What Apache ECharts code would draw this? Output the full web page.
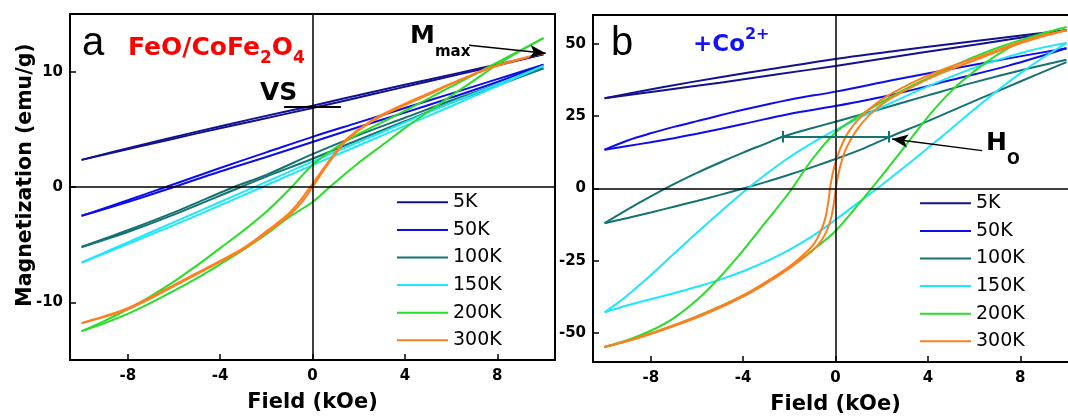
<!DOCTYPE html>
<html lang="en">
<head>
<meta charset="UTF-8">
<title>M-H loops</title>
<style>
  html, body { margin: 0; padding: 0; background: #fff; }
  #chart { width: 1068px; height: 416px; }
</style>
</head>
<body>
<div id="chart"></div>
<script src="https://cdn.jsdelivr.net/npm/echarts@6/dist/echarts.min.js"></script>
<script>
// temperatures and their colours
const temps = ['5K', '50K', '100K', '150K', '200K', '300K'];
const colors = ['#12128f', '#0d0dea', '#157272', '#1fe6fb', '#28de28', '#ff7e1e'];

const xTicks = [-8, -4, 0, 4, 8];
const yTicksA = [-10, 0, 10];
const yTicksB = [-50, -25, 0, 25, 50];

// panel a (FeO/CoFe2O4): [field kOe, M emu/g], dn = field going down, up = field going up
const a5K_dn = [[-10, 2.35], [-7.5, 3.6], [-5, 4.8], [-2.5, 5.95], [0, 7.05], [2.5, 8.2], [5, 9.3], [7.5, 10.4], [10, 11.5]];
const a5K_up = [[-10, 2.35], [-7.5, 3.5], [-5, 4.65], [-2.5, 5.75], [0, 6.85], [2.5, 8.0], [5, 9.15], [7.5, 10.3], [10, 11.5]];
const a50K_dn = [[-10, -2.5], [-8, -1.15], [-6.35, 0], [-4, 1.65], [-2, 3.0], [0, 4.35], [2, 5.6], [4, 6.85], [6, 8.1], [8, 9.35], [10, 10.6]];
const a50K_up = [[-10, -2.5], [-8, -1.3], [-6, 0], [-4, 1.35], [-2, 2.6], [0, 3.9], [2, 5.2], [4, 6.45], [6, 7.75], [8, 9.1], [10, 10.6]];
const a100K_dn = [[-10, -5.2], [-8, -3.75], [-6, -2.2], [-3.4, 0], [-2, 1.05], [0, 2.85], [2, 4.5], [4, 6.0], [6, 7.5], [8, 8.9], [10, 10.3]];
const a100K_up = [[-10, -5.2], [-8, -3.9], [-6, -2.4], [-3.1, 0], [-2, 0.9], [0, 2.45], [2, 4.1], [4, 5.7], [6, 7.3], [8, 8.8], [10, 10.3]];
const a150K_dn = [[-10, -6.55], [-8, -4.8], [-6, -3.05], [-4, -1.3], [-2, 0.45], [0, 2.2], [2, 3.9], [4, 5.6], [6, 7.3], [8, 8.9], [10, 10.5]];
const a150K_up = [[-10, -6.55], [-8, -4.95], [-6, -3.3], [-4, -1.6], [-2, 0.15], [0, 1.9], [2, 3.6], [4, 5.3], [6, 7.0], [8, 8.75], [10, 10.5]];
const a200K_dn = [[-10, -12.5], [-9, -11.6], [-8, -10.6], [-7, -9.45], [-6, -8.2], [-5, -6.8], [-4, -5.3], [-3, -3.8], [-2, -2.15], [-1, -0.2], [0, 1.9], [1, 3.4], [2, 4.6], [3, 5.6], [4, 6.6], [5, 7.65], [6, 8.7], [7, 9.75], [8, 10.8], [9, 11.85], [10, 12.9]];
const a200K_up = [[-10, -12.5], [-9, -11.8], [-8, -11.0], [-7, -10.05], [-6, -9.0], [-5, -7.9], [-4, -6.7], [-3, -5.45], [-2, -4.1], [-1, -2.6], [0, -1.3], [0.75, 0], [2, 2.1], [3, 3.6], [4, 5.1], [5, 6.5], [6, 7.9], [7, 9.25], [8, 10.6], [9, 11.8], [10, 12.9]];
const a300K_dn = [[-10, -11.8], [-9, -11.2], [-8, -10.5], [-7, -9.55], [-6, -8.5], [-5, -7.45], [-4, -6.4], [-3, -5.3], [-2, -3.85], [-1, -2.25], [-0.5, -1.1], [-0.1, 0], [0.3, 1.1], [0.6, 1.95], [1, 3.0], [1.5, 4.2], [2.5, 5.7], [3.5, 6.75], [5, 8.1], [6.5, 9.4], [8, 10.55], [10, 11.6]];
const a300K_up = [[-10, -11.8], [-9, -11.25], [-8, -10.6], [-7, -9.65], [-6, -8.6], [-5, -7.55], [-4, -6.5], [-3, -5.4], [-2, -4.0], [-1, -2.45], [-0.5, -1.4], [0, 0], [0.3, 0.9], [0.6, 1.8], [1, 2.9], [1.5, 4.1], [2.5, 5.6], [3.5, 6.65], [5, 8.0], [6.5, 9.35], [8, 10.5], [10, 11.6]];

// panel b (+Co2+)
const b5K_dn = [[-10, 31.2], [-7.5, 35.0], [-5, 38.5], [-2.5, 41.7], [0, 44.8], [2.5, 47.5], [5, 50.0], [7.5, 52.4], [10, 54.7]];
const b5K_up = [[-10, 31.2], [-7.5, 33.9], [-5, 36.6], [-2.5, 39.5], [0, 42.4], [2.5, 45.5], [5, 48.5], [7.5, 51.5], [10, 54.7]];
const b50K_dn = [[-10, 13.4], [-9, 16.6], [-8, 19.1], [-7, 21.3], [-6, 23.3], [-4, 27.2], [-2, 30.7], [0, 33.5], [2.5, 37.5], [5, 41.3], [7.5, 45.0], [10, 48.5]];
const b50K_up = [[-10, 13.4], [-9, 14.7], [-8, 16.0], [-7, 17.4], [-6, 18.9], [-4, 22.3], [-2, 25.8], [0, 28.5], [2.5, 32.5], [5, 37.5], [7.5, 42.5], [10, 48.5]];
const b100K_dn = [[-10, -12], [-9, -7.2], [-8, -2.7], [-7, 1.5], [-6, 5.4], [-5, 9.0], [-4, 12.4], [-3, 15.6], [-2.3, 17.9], [-1, 20.9], [0, 23.1], [2, 27.6], [4, 32.2], [6, 36.7], [8, 40.8], [10, 44.5]];
const b100K_up = [[-10, -12], [-9, -10.2], [-8, -8.3], [-7, -6.3], [-6, -4.3], [-5, -2.2], [-4, 0], [-3, 2.3], [-2, 4.8], [-1, 7.4], [0, 10.2], [1.2, 13.8], [2.3, 17.7], [4, 23.3], [6, 30.2], [8, 37], [10, 43.7]];
const b150K_dn = [[-10, -42.8], [-9.5, -40.0], [-9, -36.9], [-8, -30.0], [-7, -22.6], [-6, -15.3], [-5, -8.2], [-4, -1.3], [-3, 5.0], [-2, 10.8], [-1, 15.8], [0, 20.2], [1, 24.3], [2, 28.1], [3, 31.8], [4, 35.3], [5, 38.6], [6, 41.7], [7, 44.4], [8, 46.8], [9, 48.8], [10, 50.3]];
const b150K_up = [[-10, -42.8], [-9, -40.4], [-8, -38.3], [-7, -36.2], [-6, -34.0], [-5, -31.5], [-4, -28.6], [-3, -25.2], [-2, -21.2], [-1, -16.5], [0, -10.8], [1, -4.8], [2, 1.2], [3, 7.5], [4, 14.0], [5, 20.6], [6, 27.3], [7, 33.8], [8, 39.8], [9, 45.3], [10, 50.3]];
const b200K_dn = [[-10, -54.8], [-9, -52.4], [-8, -49.2], [-7, -44.8], [-6, -38.6], [-5, -30.6], [-4, -21.4], [-3, -11.4], [-2, -1.3], [-1, 10.2], [0, 19.4], [1, 25.0], [2, 29.9], [3, 34.3], [4, 38.2], [5, 42.0], [6, 45.5], [7, 48.6], [8, 51.3], [9, 53.7], [10, 55.8]];
const b200K_up = [[-10, -54.8], [-9, -52.7], [-8, -50.2], [-7, -47.3], [-6, -44.2], [-5, -40.8], [-4, -37.0], [-3, -32.4], [-2, -27.4], [-1, -21.4], [0, -14.7], [1, -5.4], [2, 4.4], [3, 14.5], [4, 24.8], [5, 33.6], [6, 40.5], [7, 46.2], [8, 50.6], [9, 53.6], [10, 55.8]];
const b300K_dn = [[-10, -54.8], [-8.5, -51.4], [-7, -47.3], [-5.5, -42.6], [-4, -37], [-3, -32.3], [-2, -27], [-1.4, -23], [-0.95, -19.3], [-0.65, -15], [-0.45, -10.5], [-0.3, -4], [-0.2, 2], [-0.05, 7.5], [0.2, 13.7], [0.6, 20], [1.15, 25.2], [1.9, 30.2], [2.6, 33.6], [3.7, 38], [5, 42.2], [6.5, 46.4], [7.94, 50.5], [9, 53], [10, 54.7]];
const b300K_up = [[-10, -54.8], [-8.5, -51.6], [-7, -47.6], [-5.5, -43.0], [-4, -37.4], [-3, -32.8], [-2, -27.6], [-1.2, -22.8], [-0.7, -19.0], [-0.4, -15.0], [-0.2, -10.5], [-0.05, -4], [0.05, 2], [0.2, 7.5], [0.45, 13.7], [0.9, 20], [1.44, 25.2], [2.2, 30.2], [2.88, 33.3], [4, 37.8], [5.05, 41.4], [6.5, 45.8], [7.94, 50], [9, 52.6], [10, 54.7]];

const loopsA = [[a5K_dn, a5K_up], [a50K_dn, a50K_up], [a100K_dn, a100K_up], [a150K_dn, a150K_up], [a200K_dn, a200K_up], [a300K_dn, a300K_up]];
const loopsB = [[b5K_dn, b5K_up], [b50K_dn, b50K_up], [b100K_dn, b100K_up], [b150K_dn, b150K_up], [b200K_dn, b200K_up], [b300K_dn, b300K_up]];

const FONT = 'DejaVu Sans';
const chart = echarts.init(document.getElementById('chart'));

function loopSeries(loops, idx) {
  const out = [];
  loops.forEach((branches, i) => {
    branches.forEach(d => {
      out.push({
        name: temps[i], type: 'line', xAxisIndex: idx, yAxisIndex: idx,
        data: d, smooth: 0.35, showSymbol: false, symbol: 'none',
        lineStyle: { width: 2, color: colors[i] }, itemStyle: { color: colors[i] }
      });
    });
  });
  return out;
}

// zero lines + annotation lines, kept on an empty helper series
function helper(idx, extra) {
  return {
    type: 'line', xAxisIndex: idx, yAxisIndex: idx, data: [], silent: true,
    markLine: {
      silent: true, animation: false, symbol: 'none', label: { show: false },
      lineStyle: { color: '#000', width: 1.5, type: 'solid' },
      data: [{ xAxis: 0 }, { yAxis: 0 }].concat(extra)
    }
  };
}
const arrowLine = (a, b) => [{ coord: a, symbol: 'none', lineStyle: { color: '#000', width: 1.5, type: 'solid' } },
                             { coord: b, symbol: 'arrow', symbolSize: [10, 16] }];
const teal = { color: '#157272', width: 2, type: 'solid' };
const annA = [
  [{ coord: [-1.23, 7.0], lineStyle: { color: '#000', width: 2, type: 'solid' } }, { coord: [1.23, 7.0] }],
  arrowLine([6.78, 12.3], [10.1, 11.6])
];
const annB = [
  [{ coord: [-2.3, 17.9], lineStyle: teal }, { coord: [2.3, 17.9] }],
  [{ coord: [-2.3, 15.9], lineStyle: teal }, { coord: [-2.3, 19.9] }],
  [{ coord: [2.3, 15.9], lineStyle: teal }, { coord: [2.3, 19.9] }],
  arrowLine([6.35, 13.1], [2.45, 17.1])
];

function xAx(idx) {
  return {
    gridIndex: idx, type: 'value', min: -10.5, max: 10.5,
    name: 'Field (kOe)', nameLocation: 'middle', nameGap: 32,
    nameTextStyle: { fontFamily: FONT, fontWeight: 'bold', fontSize: 21, color: '#000' },
    axisLine: { onZero: false, lineStyle: { color: '#000', width: 2 } },
    axisTick: { inside: true, length: 6, customValues: xTicks, lineStyle: { color: '#000', width: 1.5 } },
    axisLabel: { customValues: xTicks, margin: 9, fontFamily: FONT, fontWeight: 'bold', fontSize: 15, color: '#000' },
    splitLine: { show: false }
  };
}
function yAx(idx, lim, ticks) {
  return {
    gridIndex: idx, type: 'value', min: -lim, max: lim,
    axisLine: { onZero: false, lineStyle: { color: '#000', width: 2 } },
    axisTick: { inside: true, length: 6, customValues: ticks, lineStyle: { color: '#000', width: 1.5 } },
    axisLabel: { customValues: ticks, margin: 7, fontFamily: FONT, fontWeight: 'bold', fontSize: 15, color: '#000' },
    splitLine: { show: false }
  };
}
function legendAt(left, top) {
  return {
    data: temps, left: left, top: top, orient: 'vertical', padding: 0,
    itemWidth: 51, itemHeight: 2, itemGap: 8.6, icon: 'rect', selectedMode: false,
    textStyle: { fontFamily: FONT, fontSize: 19, color: '#000' }
  };
}

// text runs laid out left to right (for sub/superscripts)
const meas = document.createElement('canvas').getContext('2d');
function runs(x, parts) {
  const els = [];
  parts.forEach(p => {
    const w = p.bold === false ? 'normal' : 'bold';
    meas.font = w + ' ' + p.size + 'px "' + FONT + '"';
    els.push({
      type: 'text', x: x, y: p.y, silent: true,
      style: { text: p.t, fontFamily: FONT, fontWeight: w, fontSize: p.size, fill: p.c || '#000', align: 'left', verticalAlign: 'middle' }
    });
    x += meas.measureText(p.t).width;
  });
  return els;
}

const graphics = [].concat(
  [{ type: 'text', x: 26, y: 175, rotation: Math.PI / 2, silent: true,
     style: { text: 'Magnetization (emu/g)', fontFamily: FONT, fontWeight: 'bold', fontSize: 20.5, fill: '#000', align: 'center', verticalAlign: 'middle' } },
   { type: 'text', x: 93, y: 44, silent: true, style: { text: 'a', fontFamily: 'Liberation Sans', fontSize: 40, fill: '#000', align: 'center', verticalAlign: 'middle' } },
   { type: 'text', x: 622, y: 44, silent: true, style: { text: 'b', fontFamily: 'Liberation Sans', fontSize: 40, fill: '#000', align: 'center', verticalAlign: 'middle' } }],
  runs(128, [
    { t: 'FeO/CoFe', size: 25, y: 48.4, c: '#ff0000' },
    { t: '2', size: 17, y: 59, c: '#ff0000' },
    { t: 'O', size: 25, y: 48.4, c: '#ff0000' },
    { t: '4', size: 17, y: 59, c: '#ff0000' }
  ]),
  runs(260, [{ t: 'VS', size: 25, y: 93 }]),
  runs(410, [{ t: 'M', size: 25, y: 36.2 }, { t: 'max', size: 15, y: 52 }]),
  runs(693, [{ t: '+Co', size: 23, y: 45.3, c: '#1414f0' }, { t: '2+', size: 16, y: 34.5, c: '#1414f0' }]),
  runs(986, [{ t: 'H', size: 25, y: 143 }, { t: 'O', size: 15, y: 159.8 }])
);

chart.setOption({
  animation: false,
  grid: [
    { left: 70, top: 14, width: 485, height: 346, show: true, borderColor: '#000', borderWidth: 2, outerBoundsMode: 'none' },
    { left: 593, top: 15, width: 485, height: 347, show: true, borderColor: '#000', borderWidth: 2, outerBoundsMode: 'none' }
  ],
  xAxis: [xAx(0), xAx(1)],
  yAxis: [yAx(0, 15, yTicksA), yAx(1, 60, yTicksB)],
  legend: [legendAt(397, 192.8), legendAt(920, 193.8)],
  series: [helper(0, annA), helper(1, annB)].concat(loopSeries(loopsA, 0), loopSeries(loopsB, 1)),
  graphic: graphics
});
</script>
</body>
</html>
